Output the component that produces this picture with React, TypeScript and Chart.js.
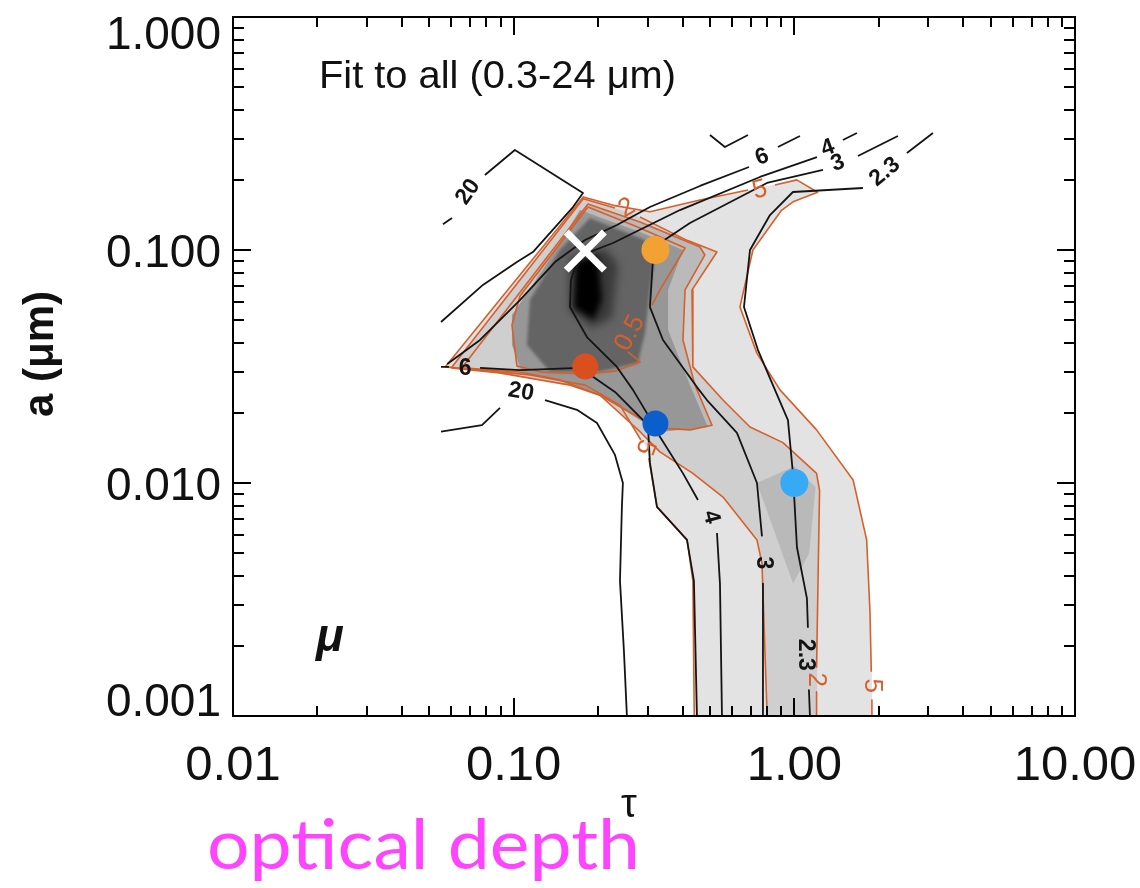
import React, { useEffect, useRef } from "react";
import { Chart, registerables } from "chart.js";

type Pt = [number, number] | null;
type Label = [string, number, number, number];

// Axis ticks (optical depth τ, grain size a in µm)
const tauTicks = [0.01, 0.1, 1, 10];
const tauTickLabels = ["0.01", "0.10", "1.00", "10.00"];
const sizeTicks = [1, 0.1, 0.01, 0.001];
const sizeTickLabels = ["1.000", "0.100", "0.010", "0.001"];

// Shaded confidence regions, [τ, a]
const regionOuter: Pt[] = [
  [0.177, 0.169], [0.23, 0.155], [0.306, 0.146], [0.461, 0.164], [0.754, 0.185], [1.02, 0.2],
  [1.21, 0.177], [0.99, 0.161], [0.9, 0.148], [0.712, 0.1], [0.64, 0.057], [0.736, 0.036],
  [0.889, 0.0251], [1.2, 0.0169], [1.62, 0.0103], [1.81, 0.0057], [1.86, 0.0028], [1.89, 0.0015],
  [1.89, 0.001], [0.44, 0.001], [0.435, 0.0038], [0.415, 0.0057], [0.324, 0.0079], [0.306, 0.0122],
  [0.3, 0.0139], [0.239, 0.0216], [0.18, 0.0263], [0.114, 0.0291], [0.057, 0.0315],
];
const regionMid: Pt[] = [
  [0.177, 0.166], [0.26, 0.144], [0.415, 0.11], [0.53, 0.098], [0.432, 0.0674], [0.435, 0.0315],
  [0.557, 0.0227], [0.695, 0.0174], [0.911, 0.0149], [1.2, 0.011], [1.23, 0.0093], [1.2, 0.001],
  [0.8, 0.001], [0.767, 0.0045], [0.736, 0.0057], [0.557, 0.0087], [0.435, 0.011], [0.332, 0.0136],
  [0.282, 0.0166], [0.203, 0.0238], [0.159, 0.0263], [0.089, 0.0297], [0.06, 0.0312],
];
const regionSecondary: Pt[] = [
  [0.736, 0.01], [1.0, 0.0118], [1.19, 0.0096], [1.13, 0.005], [0.99, 0.0037],
];
const regionInner: Pt[] = [
  [0.184, 0.1575], [0.282, 0.1319], [0.461, 0.103], [0.48, 0.0952], [0.408, 0.0674], [0.401, 0.0411],
  [0.4425, 0.0263], [0.509, 0.0177], [0.425, 0.0169], [0.332, 0.0172], [0.282, 0.019], [0.203, 0.0238],
  [0.146, 0.0277], [0.1036, 0.03], [0.0994, 0.0411], [0.124, 0.0837],
];
const regionCore: Pt[] = [
  [0.1723, 0.1484], [0.282, 0.1195], [0.401, 0.1], [0.355, 0.0674], [0.355, 0.0454], [0.425, 0.0263],
  [0.492, 0.0174], [0.338, 0.0166], [0.282, 0.0186], [0.2115, 0.0232], [0.152, 0.0271], [0.107, 0.03],
  [0.0986, 0.0391], [0.0986, 0.0526], [0.127, 0.0821],
];
const regionDeep: Pt[] = [
  [0.187, 0.1372], [0.294, 0.1104], [0.3186, 0.0952], [0.306, 0.0674], [0.294, 0.044], [0.277, 0.0327],
  [0.203, 0.03], [0.1347, 0.03], [0.1115, 0.0391], [0.1143, 0.061], [0.146, 0.1],
];
const regionMinimum: Pt[] = [
  [0.1587, 0.0924], [0.2115, 0.102], [0.2353, 0.0862], [0.224, 0.0511], [0.19, 0.0463], [0.1587, 0.0553],
];
const regionMinimumDeep: Pt[] = [
  [0.1667, 0.0888], [0.1997, 0.0952], [0.2063, 0.061], [0.1932, 0.0501], [0.164, 0.0564],
];

// Orange contours (null = break for a label or the grid edge)
const contour5: Pt[] = [
  [0.057, 0.0315], [0.177, 0.169], [0.23, 0.155], [0.306, 0.146], [0.461, 0.164], [0.684, 0.181], null,
  [0.853, 0.19], [1.02, 0.2], [1.21, 0.177], [0.99, 0.161], [0.9, 0.148], [0.712, 0.1], [0.64, 0.057],
  [0.736, 0.036], [0.889, 0.0251], [1.2, 0.0169], [1.62, 0.0103], [1.81, 0.0057], [1.86, 0.0028],
  [1.88, 0.00155], null, [1.89, 0.00117], [1.89, 0.001], null,
  [0.44, 0.001], [0.435, 0.0038], [0.415, 0.0057], [0.324, 0.0079], [0.303, 0.0128], null,
  [0.284, 0.0153], [0.239, 0.0216], [0.18, 0.0263], [0.114, 0.0291], [0.057, 0.0315],
];
const contour2: Pt[] = [
  [0.06, 0.0312], [0.177, 0.166], [0.2296, 0.1514], null, [0.2818, 0.1385], [0.415, 0.11], [0.53, 0.098],
  [0.432, 0.0674], [0.435, 0.0315], [0.557, 0.0227], [0.695, 0.0174], [0.911, 0.0149], [1.2, 0.011],
  [1.23, 0.0093], [1.2, 0.00161], null, [1.2, 0.00127], [1.2, 0.001], null,
  [0.8, 0.001], [0.767, 0.0045], [0.736, 0.0057], [0.557, 0.0087], [0.435, 0.011], [0.332, 0.0136],
  [0.282, 0.0166], [0.203, 0.0238], [0.159, 0.0263], [0.089, 0.0297], [0.06, 0.0312],
];
const contour1: Pt[] = [
  [0.0654, 0.0312], [0.184, 0.1575], [0.282, 0.1319], [0.461, 0.103], [0.48, 0.0952], [0.408, 0.0674],
  [0.401, 0.0411], [0.4425, 0.0263], [0.509, 0.0177], [0.425, 0.0169], [0.332, 0.0172], [0.282, 0.019],
  [0.203, 0.0238], [0.146, 0.0277], [0.1036, 0.03], [0.0654, 0.0312],
];
const contourHalf: Pt[] = [
  [0.1053, 0.0635], [0.184, 0.1529], [0.282, 0.1243], [0.408, 0.102], [0.332, 0.0674], [0.311, 0.058], null,
  [0.2555, 0.0365], [0.282, 0.0331], [0.2296, 0.0302], [0.1795, 0.0294], [0.1241, 0.03], [0.1027, 0.0318],
  [0.0986, 0.0477], [0.1053, 0.0635],
];

// Black χ² contours
const chi20Upper: Pt[] = [
  [0.056, 0.129], [0.0603, 0.1372], null, [0.079, 0.2099], [0.101, 0.2687], [0.1766, 0.1757],
  [0.1627, 0.1529], [0.1171, 0.098], [0.1027, 0.0888], [0.0777, 0.0708], [0.0551, 0.0491],
];
const chi20Lower: Pt[] = [
  [0.0551, 0.0166], [0.0771, 0.0177], [0.0894, 0.021], null, [0.1293, 0.0227], [0.1681, 0.0206],
  [0.1981, 0.0181], [0.2296, 0.0132], [0.245, 0.01], [0.243, 0.0079], [0.2392, 0.0038], [0.2471, 0.0019],
  [0.2532, 0.001],
];
const chi6: Pt[] = [
  [0.874, 0.2768], [1.047, 0.3085], null,
  [0.6893, 0.2271], [0.4611, 0.1883], [0.3058, 0.1529], [0.2333, 0.128], [0.1795, 0.1104], [0.1403, 0.0888],
  [0.1053, 0.061], [0.0759, 0.0411], [0.058, 0.0324], null,
  [0.0551, 0.0315], [0.0588, 0.0315], null,
  [0.0759, 0.0312], [0.1053, 0.0305], [0.1723, 0.0312], [0.2296, 0.0246], [0.3009, 0.0177], [0.3058, 0.0122],
  [0.324, 0.0079], [0.4144, 0.0057], [0.4388, 0.0038], [0.4498, 0.001],
];
const chi4: Pt[] = [
  [1.4897, 0.2966], [1.6711, 0.3178], null,
  [1.2039, 0.2506], [0.7543, 0.2058], [0.3913, 0.1484], [0.2259, 0.1072], [0.1949, 0.1], [0.1695, 0.0924],
  [0.16, 0.0743], [0.1587, 0.0569], [0.1824, 0.0423], [0.2333, 0.0315], [0.2661, 0.0251], [0.3009, 0.0196],
  [0.332, 0.0158], [0.4011, 0.011], [0.4535, 0.00845], null,
  [0.5301, 0.0061], [0.5433, 0.0037], [0.5523, 0.001],
];
const chi3: Pt[] = [
  [1.685, 0.2531], [2.339, 0.3085], null,
  [1.2645, 0.2205], [0.7989, 0.194], [0.4247, 0.1306], [0.324, 0.1051], [0.3135, 0.0906], [0.3058, 0.0569],
  [0.3404, 0.0411], [0.4498, 0.0258], [0.4882, 0.0227], [0.6245, 0.0164], [0.736, 0.01], [0.7668, 0.0059], null,
  [0.7731, 0.0037], [0.7731, 0.001],
];
const chi23: Pt[] = [
  [2.519, 0.2608], [3.118, 0.3178], null,
  [1.7556, 0.1845], [0.9886, 0.1774], [0.8188, 0.1413], [0.695, 0.1], [0.6615, 0.0569], [0.7421, 0.0372],
  [0.853, 0.0251], [0.9489, 0.0186], [0.9886, 0.011], [1.0216, 0.0053], [1.1088, 0.0032], [1.1179, 0.00239], null,
  [1.127, 0.0013], [1.1366, 0.001],
];
const chiTopStub: Pt[] = [[0.5005, 0.3115], [0.5657, 0.2768], [0.6836, 0.3115]];

// Contour labels: [text, τ, a, angle in degrees]
const chiLabels: Label[] = [
  ["20", 0.0688, 0.1774, -55],
  ["20", 0.1062, 0.0246, 10],
  ["6", 0.7668, 0.2506, -20],
  ["4", 1.317, 0.274, -20],
  ["3", 1.43, 0.2362, -20],
  ["2.3", 2.103, 0.2162, -40],
  ["6", 0.0671, 0.0309, 0],
  ["4", 0.5047, 0.00714, 75],
  ["3", 0.7731, 0.00454, 90],
  ["2.3", 1.091, 0.00183, 90],
];
const orangeLabels: Label[] = [
  ["5", 0.7543, 0.1809, -15],
  ["2", 0.2532, 0.1514, -30],
  ["0.5", 0.2596, 0.044, -62],
  ["5", 0.2936, 0.01427, 110],
  ["2", 1.2, 0.00143, 90],
  ["5", 1.89, 0.00135, 90],
];

// Best-fit and sample positions
const bestFit: Pt[] = [[0.18, 0.099]];
const fitOrange: Pt[] = [[0.32, 0.1]];
const fitRed: Pt[] = [[0.18, 0.0316]];
const fitBlue: Pt[] = [[0.32, 0.018]];
const fitSky: Pt[] = [[1.0, 0.01]];

const INK = "#141414";
const RUST = "#d5602c";

const pts = (arr: Pt[]) => arr.map((p) => (p ? { x: p[0], y: p[1] } : { x: null, y: null }));

const shade = (data: Pt[], color: string, order: number, softness = 0) => ({
  data: pts(data),
  showLine: true,
  fill: "shape",
  backgroundColor: color,
  borderWidth: 0,
  pointRadius: 0,
  order,
  softness,
});

const contour = (data: Pt[], color: string, width: number, order: number) => ({
  data: pts(data),
  showLine: true,
  fill: false,
  borderColor: color,
  borderWidth: width,
  borderJoinStyle: "round",
  pointRadius: 0,
  spanGaps: false,
  order,
});

const marker = (data: Pt[], color: string, radius: number, order: number) => ({
  data: pts(data),
  showLine: false,
  pointRadius: radius,
  pointHoverRadius: radius,
  pointBackgroundColor: color,
  pointBorderWidth: 0,
  order,
});

// Soft edges for the dark minimum of the χ² surface
const softShade = {
  id: "softShade",
  beforeDatasetDraw(chart: any, args: any) {
    const ds = chart.data.datasets[args.index];
    if (ds && ds.softness) {
      chart.ctx.save();
      chart.ctx.filter = `blur(${ds.softness}px)`;
    }
  },
  afterDatasetDraw(chart: any, args: any) {
    const ds = chart.data.datasets[args.index];
    if (ds && ds.softness) chart.ctx.restore();
  },
};
Chart.register(softShade);
Chart.register(...registerables);

function stretchedText(ctx: CanvasRenderingContext2D, text: string, x: number, y: number, width: number) {
  const w = ctx.measureText(text).width;
  ctx.save();
  ctx.translate(x, y);
  ctx.scale(width / w, 1);
  ctx.fillText(text, 0, 0);
  ctx.restore();
}

const axisChrome = {
  id: "axisChrome",
  afterDatasetsDraw(chart: any) {
    const { ctx, chartArea: ca, scales } = chart;
    const xs = scales.x;
    const ys = scales.y;
    ctx.save();

    const drawLabel = (l: Label, font: string, color: string) => {
      const px = xs.getPixelForValue(l[1]);
      const py = ys.getPixelForValue(l[2]);
      ctx.save();
      ctx.translate(px, py);
      ctx.rotate((l[3] * Math.PI) / 180);
      ctx.font = font;
      ctx.fillStyle = color;
      ctx.textAlign = "center";
      ctx.textBaseline = "middle";
      ctx.fillText(l[0], 0, 0);
      ctx.restore();
    };
    chiLabels.forEach((l) => drawLabel(l, 'bold 23px "Liberation Sans"', INK));
    orangeLabels.forEach((l) => drawLabel(l, '26px "Liberation Sans"', RUST));

    // frame
    ctx.strokeStyle = "#000";
    ctx.lineWidth = 2;
    ctx.strokeRect(ca.left, ca.top, ca.right - ca.left, ca.bottom - ca.top);

    // inward log ticks on all four sides
    ctx.beginPath();
    for (let e = -2; e <= 1; e++) {
      for (let m = 1; m <= 9; m++) {
        const v = m * Math.pow(10, e);
        if (v > 10.0001) break;
        const px = Math.round(xs.getPixelForValue(v));
        const len = m === 1 ? 18 : 10;
        ctx.moveTo(px, ca.bottom);
        ctx.lineTo(px, ca.bottom - len);
        ctx.moveTo(px, ca.top);
        ctx.lineTo(px, ca.top + len);
      }
    }
    for (let e = -3; e <= 0; e++) {
      for (let m = 1; m <= 9; m++) {
        const v = m * Math.pow(10, e);
        if (v > 1.0001) break;
        const py = Math.round(ys.getPixelForValue(v));
        const len = m === 1 ? 18 : 11;
        ctx.moveTo(ca.left, py);
        ctx.lineTo(ca.left + len, py);
        ctx.moveTo(ca.right, py);
        ctx.lineTo(ca.right - len, py);
      }
    }
    ctx.stroke();

    // tick labels
    ctx.fillStyle = "#111";
    ctx.font = '46px "Liberation Sans"';
    ctx.textAlign = "right";
    ctx.textBaseline = "alphabetic";
    sizeTicks.forEach((v, i) => {
      const py = ys.getPixelForValue(v);
      const base = Math.min(Math.max(py + 16.5, ca.top + 32), ca.bottom);
      ctx.fillText(sizeTickLabels[i], ca.left - 12, base);
    });
    ctx.font = '49px "Liberation Sans"';
    ctx.textAlign = "center";
    tauTicks.forEach((v, i) => {
      ctx.fillText(tauTickLabels[i], xs.getPixelForValue(v), ca.bottom + 64);
    });

    // annotations
    ctx.textAlign = "left";
    ctx.font = '38px "Liberation Sans"';
    stretchedText(ctx, "Fit to all (0.3-24 μm)", ca.left + 86, ca.top + 71, 357);
    ctx.font = 'italic bold 46px "Liberation Sans"';
    ctx.fillText("μ", ca.left + 83, ca.top + 634);

    // axis titles
    ctx.save();
    ctx.translate(41, 354);
    ctx.rotate(-Math.PI / 2);
    ctx.textAlign = "center";
    ctx.textBaseline = "middle";
    ctx.font = 'bold 42px "Liberation Sans"';
    ctx.fillText("a (μm)", 0, 0);
    ctx.restore();

    ctx.textAlign = "center";
    ctx.textBaseline = "middle";
    ctx.font = '40px "Liberation Sans"';
    ctx.fillText("τ", 629, 806);

    ctx.textAlign = "left";
    ctx.textBaseline = "alphabetic";
    ctx.fillStyle = "#ff44ff";
    ctx.font = '70px "Lato"';
    stretchedText(ctx, "optical depth", 207, 869, 433);

    ctx.restore();
  },
};

export default function App() {
  const canvasRef = useRef<HTMLCanvasElement | null>(null);

  useEffect(() => {
    const canvas = canvasRef.current;
    if (!canvas) return;
    const datasets: any[] = [
      shade(regionOuter, "#e3e3e3", 110),
      shade(regionMid, "#cfcfcf", 109),
      shade(regionSecondary, "#b9b9b9", 108),
      shade(regionInner, "#bababa", 107),
      shade(regionCore, "#979797", 106),
      shade(regionDeep, "#646464", 105, 1.5),
      shade(regionMinimum, "#3a3a3a", 104, 4),
      shade(regionMinimumDeep, "#000000", 103, 3),
      contour(contour5, RUST, 1.6, 60),
      contour(contour2, RUST, 1.6, 59),
      contour(contour1, RUST, 1.6, 58),
      contour(contourHalf, RUST, 1.6, 57),
      contour(chi20Upper, INK, 1.8, 50),
      contour(chi20Lower, INK, 1.8, 49),
      contour(chi6, INK, 1.8, 48),
      contour(chi4, INK, 1.8, 47),
      contour(chi3, INK, 1.8, 46),
      contour(chi23, INK, 1.8, 45),
      contour(chiTopStub, INK, 1.8, 44),
      marker(fitOrange, "#f2a232", 14, 5),
      marker(fitRed, "#d9501e", 13, 4),
      marker(fitBlue, "#0a5fcd", 13, 3),
      marker(fitSky, "#37aaf5", 14, 2),
      {
        data: pts(bestFit),
        showLine: false,
        pointStyle: "crossRot",
        pointRadius: 27,
        pointHoverRadius: 27,
        pointBorderColor: "#ffffff",
        pointBorderWidth: 7,
        pointBackgroundColor: "#ffffff",
        order: 0,
      },
    ];

    const chart = new Chart(canvas, {
      type: "scatter",
      data: { datasets },
      options: {
        responsive: false,
        animation: false,
        devicePixelRatio: 1,
        events: [],
        layout: { autoPadding: false, padding: { left: 0, right: 65, top: 17, bottom: 0 } },
        plugins: { legend: { display: false }, tooltip: { enabled: false } },
        scales: {
          x: {
            type: "logarithmic",
            min: 0.01,
            max: 10,
            grid: { display: false },
            border: { display: false },
            ticks: { display: false },
            afterFit: (s: any) => {
              s.height = 172;
            },
          },
          y: {
            type: "logarithmic",
            min: 0.001,
            max: 1,
            grid: { display: false },
            border: { display: false },
            ticks: { display: false },
            afterFit: (s: any) => {
              s.width = 233;
            },
          },
        },
      } as any,
      plugins: [axisChrome],
    });
    return () => chart.destroy();
  }, []);

  return (
    <div style={{ position: "absolute", left: 0, top: 0, width: 1140, height: 888, background: "#fff" }}>
      <canvas ref={canvasRef} width={1140} height={888} style={{ display: "block" }} />
    </div>
  );
}
